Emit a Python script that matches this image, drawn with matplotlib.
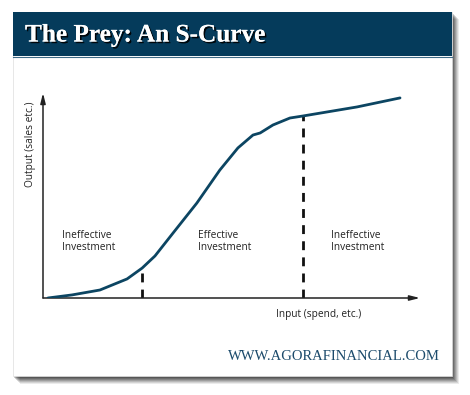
import matplotlib
matplotlib.use("Agg")
import matplotlib.pyplot as plt
from matplotlib.patches import Rectangle
import matplotlib.patheffects as pe

# Data (input vs output, arbitrary units 0-100)
curve_x = [1.3, 7.7, 15.1, 22.3, 26.3, 29.7, 34.5, 40.8, 46.9, 51.7, 55.7, 57.6, 61.0, 65.5, 69.0, 83.3, 94.7]
curve_y = [0.0, 1.5, 3.9, 9.3, 14.6, 20.5, 31.7, 46.3, 62.4, 73.2, 79.5, 80.5, 84.4, 87.8, 88.8, 93.2, 97.6]
boundary_x = [26.3, 69.0]
boundary_y = [14.6, 88.8]
region_labels = ["Ineffective\nInvestment", "Effective\nInvestment", "Ineffective\nInvestment"]
region_x = [5.0, 41.0, 76.5]
title = "The Prey: An S-Curve"
xlabel = "Input (spend, etc.)"
ylabel = "Output (sales etc.)"
footer = "WWW.AGORAFINANCIAL.COM"

W, H = 470, 395
fig = plt.figure(figsize=(W / 100, H / 100), dpi=100)
fig.patch.set_facecolor("white")

# background / decoration axes in pixel coordinates
bg = fig.add_axes([0, 0, 1, 1])
bg.set_xlim(0, W)
bg.set_ylim(H, 0)
bg.axis("off")

# shadow
for i, a in enumerate([0.08, 0.10, 0.12, 0.14, 0.16, 0.18, 0.2]):
    off = 7 - i
    bg.add_patch(Rectangle((13 + off, 12 + off), 439, 365, facecolor="#000000",
                           alpha=a, edgecolor="none", zorder=1))
# card
bg.add_patch(Rectangle((13, 12), 439, 364, facecolor="white", edgecolor="#dddddd",
                       lw=0.5, zorder=2))
# header
navy = "#053b5b"
bg.add_patch(Rectangle((13, 12), 439, 44, facecolor=navy, edgecolor="none", zorder=3))
bg.plot([13, 452], [56.5, 56.5], color="#3e6a86", lw=0.8, zorder=3)
bg.text(25, 35, title, fontsize=18.2, fontweight="bold", family="Liberation Serif",
        color="white", va="center", ha="left", zorder=4,
        path_effects=[pe.withSimplePatchShadow(offset=(1.2, -1.2), shadow_rgbFace="black", alpha=0.9),
                      pe.Normal()])
bg.text(440, 357, footer, fontsize=10.5, family="Liberation Serif", color="#1b4a6b",
        ha="right", va="center", zorder=4)

# chart axes: left 43px, right 420px, bottom 298px, top 93px
l, r, b, t = 43, 420, 298, 93
ax = fig.add_axes([l / W, 1 - b / H, (r - l) / W, (b - t) / H])
ax.set_xlim(0, 100)
ax.set_ylim(0, 100)
ax.patch.set_alpha(0)
ax.set_zorder(5)
for s in ax.spines.values():
    s.set_visible(False)
ax.set_xticks([])
ax.set_yticks([])

# axes with arrowheads
ax.annotate("", xy=(100, 0), xytext=(0, 0),
            arrowprops=dict(arrowstyle="-|>,head_length=0.6,head_width=0.15", color="#222222", lw=1.1,
                            shrinkA=0, shrinkB=0))
ax.annotate("", xy=(0, 100), xytext=(0, 0),
            arrowprops=dict(arrowstyle="-|>,head_length=0.6,head_width=0.15", color="#222222", lw=1.1,
                            shrinkA=0, shrinkB=0))

ax.plot(curve_x, curve_y, color="#0c4562", lw=2.0, solid_capstyle="round", solid_joinstyle="round", zorder=3)
for bx, by in zip(boundary_x, boundary_y):
    ax.plot([bx, bx], [0, by], color="#111111", lw=2.0, ls=(0, (3.2, 2.6)), zorder=2)

for lx, lab in zip(region_x, region_labels):
    ax.text(lx, 27.5, lab, fontsize=7.3, family="Open Sans", color="#222222",
            ha="left", va="center", linespacing=1.05)

ax.text(73, -8, xlabel, fontsize=7.3, family="Open Sans", color="#222222", ha="center", va="center")
ax.text(-3.4, 75, ylabel, fontsize=7.3, family="Open Sans", color="#222222", ha="center",
        va="center", rotation=90)

fig.savefig("out.png", dpi=100)
